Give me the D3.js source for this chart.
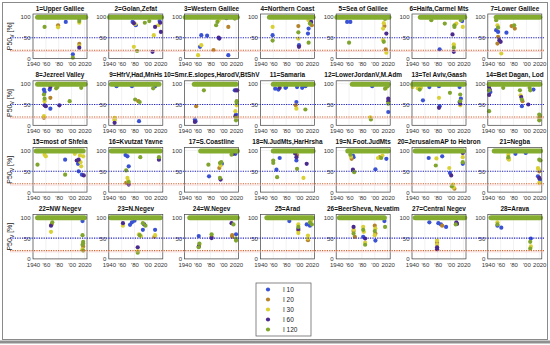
<!DOCTYPE html>
<html>
<head>
<meta charset="utf-8">
<script src="https://cdn.jsdelivr.net/npm/d3@7"></script>
<style>
body { margin: 0; background: #fff; }
svg { display: block; font-family: "Liberation Sans", Arial, sans-serif; }
</style>
</head>
<body>
<div id="chart"></div>
<script>
// panel titles, row by row
var titles = ["1=Upper Galilee", "2=Golan,Zefat", "3=Western Galilee", "4=Northern Coast", "5=Sea of Galilee", "6=Haifa,Carmel Mts", "7=Lower Galilee",
  "8=Jezreel Valley", "9=HfrV,Had,MnHs", "10=Smr.E.slopes,HarodV,BtShV", "11=Samaria", "12=LowerJordanV,M.Adm", "13=Tel Aviv,Gaash", "14=Bet Dagan, Lod",
  "15=most of Shfela", "16=Kvutzat Yavne", "17=S.Coastline", "18=N.JudMts,HarHrsha", "19=N.Foot.JudMts", "20=JerusalemAP to Hebron", "21=Negba",
  "22=NW Negev", "23=N.Negev", "24=W.Negev", "25=Arad", "26=BeerSheva, Nevatim", "27=Central Negev", "28=Arava"];

// years covered by the dense run of stations sitting at 100 %
var band100 = [[1947, 2022], [1941, 2022], [1941, 2022], [1954, 2022], [1941, 2022], [1953, 2022], [1953, 2021],
  [1947, 2021], [1944, 2018], [1955, 2020], [1960, 2022], [1965, 2021], [1941, 2021], [1942, 2021],
  [1945, 2018], [1944, 2020], [1965, 2022], [1960, 2022], [1958, 2021], [1945, 2020], [1950, 2022],
  [1947, 2020], [1943, 2020], [1948, 2022], [1950, 2021], [1945, 2015], [1945, 2022], [1945, 2022]];

// [panel, year, P50v]
var i10 = [[1,1991,88],[1,2002,10],[2,1977,88],[2,1982,80],[2,2019,90],[3,1966,56],[3,1975,55],[3,1964,28],[3,2008,8],[3,2005,97],
  [4,1959,56],[4,2000,32],[4,2015,72],[4,2014,60],[5,1957,88],[5,1962,88],[6,1983,22],[6,2018,90],[7,1953,68],[7,1956,64],[7,1969,62],
  [8,1957,86],[8,1958,80],[8,1966,86],[8,1967,40],[9,1952,94],[9,1976,94],[9,2012,94],[9,1987,10],[10,2018,84],[10,2020,26],[10,1956,14],[10,1957,10],
  [11,1963,88],[11,1968,86],[11,1979,90],[11,1980,92],[11,1997,92],[11,2005,90],[11,2010,94],[11,1996,56],[12,1996,94],[12,2021,32],
  [13,1967,92],[13,1982,94],[13,1957,60],[13,1983,46],[13,2014,92],[13,2016,64],[13,2014,56],[14,1944,80],[14,1993,46],[14,2011,86],
  [15,1990,78],[15,2010,68],[15,2011,50],[15,2016,42],[16,1966,89],[16,1969,86],[16,1971,62],[17,1978,38],[17,1998,68],[17,2019,92],
  [18,1970,82],[18,1965,54],[18,1996,76],[19,1966,88],[19,1967,84],[19,2001,55],[19,2018,80],[20,1966,82],[20,1987,86],[20,1999,46],[20,2019,68],
  [21,1983,92],[21,1999,94],[21,2018,38],[21,2021,30],[22,2017,91],[23,1973,82],[23,1976,88],[23,1980,92],[23,1993,70],[23,2012,70],
  [24,1962,55],[24,2020,59],[25,1985,91],[25,2012,83],[25,2017,80],[26,1982,53],[26,2001,44],[26,2015,91],
  [27,1967,88],[27,1981,86],[27,1985,83],[27,1993,77],[28,1955,80],[28,1961,75],[28,2007,49]];
var i20 = [[1,1979,80],[1,2012,35],[3,2008,76],[3,1985,20],[4,1999,78],[4,2020,80],[5,2015,78],[5,2017,22],[7,1956,52],[7,1955,36],[7,1977,78],[7,1982,72],
  [8,1967,66],[8,1957,18],[9,1986,58],[9,1949,15],[10,1958,46],[11,1995,48],[14,1994,58],[14,2020,18],[16,1967,22],[17,1994,58],
  [18,1997,89],[19,1964,80],[19,1967,50],[19,2008,84],[20,2006,8],[21,1972,80],[21,2020,50],[22,1969,83],[22,2018,30],[23,2011,53],
  [24,1982,53],[24,2014,57],[24,2014,53],[25,1999,69],[25,2014,45],[26,1967,67],[26,1969,53],[26,2000,80],[26,2001,61],[27,1987,80],[27,1979,39]];
var i30 = [[1,1979,75],[1,2012,86],[1,2012,30],[2,1981,83],[2,2017,80],[2,2010,56],[2,1979,28],[3,1993,92],[3,1966,32],[3,1961,8],
  [4,1959,76],[4,1999,48],[4,2015,92],[5,2014,85],[5,2013,72],[5,2013,44],[5,2018,14],[6,2009,84],[6,2019,76],[6,2005,34],[6,2005,30],
  [7,1955,80],[7,1961,12],[8,1957,22],[8,1958,58],[9,1949,18],[9,1949,12],[10,2021,48],[10,2019,34],[11,1996,40],[12,1993,19],[12,2018,90],
  [13,1941,92],[13,1949,89],[13,1954,90],[13,2015,48],[13,1982,66],[14,1991,72],[15,1958,90],[15,1960,86],[15,2014,72],[15,2015,62],
  [15,2005,92],[15,2013,88],[15,2018,86],[16,1969,34],[16,1970,27],[17,1996,64],[18,2007,34],[19,1963,85],[19,2005,82],[19,2012,88],
  [20,1978,81],[20,1998,58],[20,2004,18],[20,2005,11],[20,2019,84],[21,1972,90],[21,1973,78],[21,2018,58],[21,2019,55],[21,2020,22],
  [22,1968,65],[22,2017,23],[23,1962,80],[23,1987,59],[23,1990,55],[23,2012,57],[23,1985,18],[24,1963,34],[25,1999,83],[25,1999,62],
  [25,2019,92],[25,2014,56],[25,2014,49],[26,1967,70],[26,1982,77],[26,1983,65],[26,1985,39],[26,2001,73],[26,2000,57],
  [27,1979,44],[27,1979,34],[28,1955,88],[28,2007,30]];
var i60 = [[1,2012,26],[1,2012,96],[2,1979,85],[2,2012,76],[2,2021,64],[2,2020,86],[2,2008,16],[3,1993,50],[3,1994,48],[4,2000,28],[4,2019,88],
  [5,2018,60],[6,2003,58],[6,2005,16],[7,1958,44],[7,1960,40],[8,1967,92],[8,1958,48],[8,1960,46],[8,1981,48],[9,1949,6],
  [10,2020,84],[10,2022,84],[10,2019,22],[10,1956,8],[11,1970,90],[12,2021,64],[12,2021,58],[13,1982,42],[13,2015,52],
  [14,1942,92],[14,1943,86],[14,1942,73],[14,1992,68],[14,2003,50],[15,2008,76],[15,2011,78],[15,2019,40],[16,1971,18],[16,2018,78],
  [17,1996,30],[17,2016,92],[18,1994,93],[18,1996,84],[18,2012,68],[19,1966,54],[20,2001,40],[20,2019,94],[21,2020,34],
  [22,1968,80],[23,1962,86],[23,1995,83],[23,1985,28],[24,1962,30],[24,1982,50],[24,2013,86],[25,1999,72],[26,1967,77],[26,1985,49],
  [27,2009,88],[27,2010,84],[27,1979,28],[27,1979,23]];
var i120 = [[1,1958,76],[1,2012,90],[1,2002,2],[2,1996,86],[2,1984,18],[2,2003,90],[3,1989,80],[3,1991,88],[3,2018,96],
  [4,1959,43],[4,1999,63],[4,2017,84],[4,2015,38],[5,1960,38],[5,2014,40],[5,2016,95],[6,1970,92],[6,1991,84],[6,2006,80],[6,2006,76],
  [6,2016,92],[6,2005,26],[7,1953,92],[7,1956,74],[7,1981,80],[8,1957,74],[8,1958,64],[8,1976,89],[8,1978,92],[8,1997,58],[8,2015,90],
  [9,2009,89],[9,1981,62],[9,1988,56],[10,1970,84],[10,2021,58],[10,2021,54],[10,2020,18],[10,2020,12],[11,2010,38],
  [12,2020,94],[12,2021,52],[12,1994,14],[12,2016,88],[13,1952,86],[13,1999,78],[13,2015,74],[13,2015,58],
  [14,1942,84],[14,1942,34],[14,1964,90],[14,1990,84],[14,1993,62],[14,2005,90],[14,2006,84],[14,2020,26],[14,2021,22],[14,2020,12],
  [15,1947,66],[15,1990,42],[16,1989,84],[16,1967,52],[16,1971,24],[16,2018,84],[17,1977,66],[17,1995,70],[17,1997,72],[17,1995,34],[17,2013,90],
  [18,1960,76],[18,1960,70],[18,1966,36],[18,1997,56],[19,1962,90],[19,1968,48],[19,2010,82],[20,1977,64],[20,2002,14],[20,2019,72],
  [21,1972,84],[21,2020,78],[21,2022,76],[22,1970,88],[22,2017,57],[22,2018,41],[22,2018,37],[22,2017,34],[22,2018,20],
  [23,1993,86],[23,1997,80],[23,1988,57],[23,1985,15],[24,1963,37],[24,1962,28],[24,1982,59],[24,2020,49],[24,2020,44],[24,2016,83],
  [25,1999,77],[25,2017,88],[25,2020,83],[26,1967,61],[26,1982,70],[26,1985,34],[26,2000,67],[26,2016,77],[27,2008,83],
  [28,1955,83],[28,2006,41],[28,2006,25]];

var series = [
  {name: "I 10", color: "#3a52d4", data: i10},
  {name: "I 20", color: "#b5832c", data: i20},
  {name: "I 30", color: "#d8d035", data: i30},
  {name: "I 60", color: "#4b2a8e", data: i60},
  {name: "I 120", color: "#7fa52e", data: i120}
];

var xTicks = [1940, 1960, 1980, 2000, 2020];
var xTickLabels = ["1940", "'60", "'80", "'00", "2020"];
var yTicks = [0, 50, 100];
var refLines = [{v: 50, color: "#2323c8"}, {v: 20, color: "#d2602a"}];

var width = 550, height = 345;
var colX0 = 33, colStep = 75.8, boxW = 54;
var rowY0 = 14, rowStep = 66.8, boxH = 44.5;

var svg = d3.select("#chart").append("svg")
  .attr("width", width)
  .attr("height", height);

// outer frame
svg.append("rect")
  .attr("x", 2.5).attr("y", 2.5)
  .attr("width", 545).attr("height", 337)
  .attr("fill", "none").attr("stroke", "#8a8a8a").attr("stroke-width", 1);
svg.append("rect")
  .attr("x", 0).attr("y", 340.5)
  .attr("width", width).attr("height", 3)
  .attr("fill", "#8f8f8f");

var x = d3.scaleLinear().domain([1940, 2024]).range([0, boxW]);
var y = d3.scaleLinear().domain([0, 107]).range([boxH, 0]);

var panels = [];
titles.forEach(function (t, i) {
  var col = i % 7, row = Math.floor(i / 7);
  var g = svg.append("g")
    .attr("transform", "translate(" + (colX0 + col * colStep) + "," + (rowY0 + row * rowStep) + ")");
  panels.push(g);

  g.append("rect").attr("width", boxW).attr("height", boxH).attr("fill", "#fff");

  // grid
  g.selectAll(".gx").data(xTicks).enter().append("line")
    .attr("x1", function (d) { return x(d); }).attr("x2", function (d) { return x(d); })
    .attr("y1", 0).attr("y2", boxH)
    .attr("stroke", "#e4e4e4").attr("stroke-width", 0.5);
  g.selectAll(".gy").data(yTicks).enter().append("line")
    .attr("x1", 0).attr("x2", boxW)
    .attr("y1", function (d) { return y(d); }).attr("y2", function (d) { return y(d); })
    .attr("stroke", "#e4e4e4").attr("stroke-width", 0.5);

  var xAxis = d3.axisBottom(x).tickValues(xTicks)
    .tickFormat(function (d, k) { return xTickLabels[k]; })
    .tickSize(0).tickPadding(3.5);
  var gx = g.append("g").attr("transform", "translate(0," + boxH + ")").call(xAxis);
  gx.select(".domain").remove();
  gx.selectAll("text").attr("font-size", 6).attr("fill", "#333");

  var yAxis = d3.axisLeft(y).tickValues(yTicks).tickSize(0).tickPadding(2.5);
  var gy = g.append("g").call(yAxis);
  gy.select(".domain").remove();
  gy.selectAll("text").attr("font-size", 6).attr("fill", "#333");

  g.append("text")
    .attr("x", boxW / 2).attr("y", -3.5)
    .attr("text-anchor", "middle")
    .attr("font-size", 6.4).attr("font-weight", "bold").attr("fill", "#111")
    .text(t);

  if (col === 0) {
    var lab = g.append("text")
      .attr("transform", "translate(-21," + (boxH / 2) + ") rotate(-90)")
      .attr("text-anchor", "middle")
      .attr("font-size", 7).attr("fill", "#222");
    lab.append("tspan").text("P50");
    lab.append("tspan").attr("font-size", 5).attr("dy", 1.5).text("V");
    lab.append("tspan").attr("dy", -1.5).text(" [%]");
  }
});

// scatter points
series.forEach(function (s) {
  s.data.forEach(function (d) {
    panels[d[0] - 1].append("circle")
      .attr("cx", x(d[1])).attr("cy", y(d[2]))
      .attr("r", 2.1)
      .attr("fill", s.color);
  });
});

// dense run at 100 %
band100.forEach(function (b, i) {
  panels[i].append("line")
    .attr("x1", x(b[0])).attr("x2", x(b[1]))
    .attr("y1", y(99)).attr("y2", y(99))
    .attr("stroke", "#84ad30").attr("stroke-width", 5)
    .attr("stroke-linecap", "round");
});

panels.forEach(function (g) {
  g.append("rect").attr("width", boxW).attr("height", boxH)
    .attr("fill", "none").attr("stroke", "#444").attr("stroke-width", 0.7);
});

// reference lines across each row
for (var r = 0; r < 4; r++) {
  refLines.forEach(function (l) {
    var yy = rowY0 + r * rowStep + y(l.v);
    svg.append("line")
      .attr("x1", 10).attr("x2", 544)
      .attr("y1", yy).attr("y2", yy)
      .attr("stroke", l.color).attr("stroke-width", 1.1)
      .attr("stroke-dasharray", "1.2,1.2");
  });
  svg.append("line")
    .attr("x1", 10).attr("x2", 544)
    .attr("y1", rowY0 + r * rowStep + y(18) + 0.5).attr("y2", rowY0 + r * rowStep + y(18) + 0.5)
    .attr("stroke", "#f4c4c4").attr("stroke-width", 0.6);
}

// legend
var lg = svg.append("g").attr("transform", "translate(256,283)");
lg.append("rect").attr("width", 55).attr("height", 53)
  .attr("fill", "#fff").attr("stroke", "#555").attr("stroke-width", 0.7);
series.forEach(function (s, k) {
  lg.append("circle").attr("cx", 12).attr("cy", 6.5 + k * 10).attr("r", 2.1).attr("fill", s.color);
  lg.append("text").attr("x", 27).attr("y", 8.7 + k * 10)
    .attr("font-size", 6.5).attr("fill", "#222").text(s.name);
});
</script>
</body>
</html>
